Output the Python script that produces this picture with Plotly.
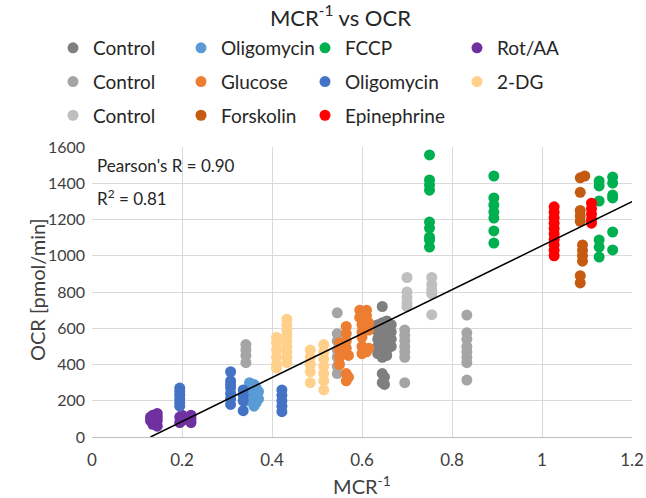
import plotly.graph_objects as go

# ---------------- data ----------------
ctrl1_x = [0.645, 0.635, 0.635, 0.635, 0.635, 0.635, 0.645, 0.645, 0.645, 0.645, 0.645, 0.645,
           0.655, 0.655, 0.655, 0.655, 0.655, 0.655, 0.665, 0.665, 0.665, 0.665, 0.645, 0.645, 0.65, 0.65]
ctrl1_y = [720, 620, 580, 540, 500, 460, 630, 590, 550, 510, 470, 440,
           640, 600, 560, 520, 480, 450, 620, 580, 540, 500, 350, 300, 330, 290]

oligo1_x = [0.35, 0.35, 0.35, 0.355, 0.355, 0.36, 0.36, 0.36, 0.365, 0.365, 0.365, 0.37, 0.37, 0.345, 0.345, 0.34, 0.36]
oligo1_y = [300, 260, 220, 280, 240, 290, 250, 210, 270, 230, 190, 250, 210, 240, 200, 260, 170]

fccp_x = [0.75, 0.75, 0.75, 0.75, 0.75, 0.75, 0.75, 0.75, 0.75,
          0.893, 0.893, 0.893, 0.893, 0.893, 0.893, 0.893,
          1.127, 1.127, 1.127, 1.127, 1.127, 1.127,
          1.157, 1.157, 1.157, 1.157, 1.157, 1.157]
fccp_y = [1556, 1418, 1390, 1362, 1186, 1153, 1103, 1087, 1048,
          1440, 1319, 1280, 1241, 1208, 1137, 1070,
          1412, 1385, 1302, 1087, 1048, 993,
          1434, 1401, 1335, 1319, 1131, 1032]

rotaa_x = [0.13, 0.13, 0.135, 0.135, 0.135, 0.145, 0.145, 0.145, 0.145,
           0.195, 0.195, 0.2, 0.2, 0.22, 0.22, 0.22]
rotaa_y = [90, 110, 70, 100, 120, 60, 90, 110, 130,
           80, 110, 90, 120, 80, 100, 120]

ctrl2_x = [0.342, 0.342, 0.342, 0.342,
           0.545, 0.545, 0.545, 0.545, 0.545, 0.545, 0.545,
           0.695, 0.695, 0.695, 0.695, 0.695, 0.695, 0.695,
           0.833, 0.833, 0.833, 0.833, 0.833, 0.833, 0.833, 0.833]
ctrl2_y = [510, 480, 450, 410,
           685, 570, 530, 480, 440, 390, 350,
           590, 560, 530, 500, 470, 440, 300,
           673, 575, 540, 500, 470, 440, 410, 314]

gluc_x = [0.55, 0.55, 0.55, 0.55, 0.555, 0.565, 0.565, 0.565, 0.565, 0.57, 0.565, 0.565, 0.57,
          0.595, 0.61, 0.595, 0.61, 0.6, 0.615, 0.6, 0.615, 0.6, 0.6, 0.615, 0.6, 0.61]
gluc_y = [520, 480, 440, 400, 500, 610, 570, 530, 490, 450, 350, 310, 330,
          700, 700, 660, 670, 620, 630, 580, 590, 550, 500, 490, 460, 470]

oligo2_x = [0.195, 0.195, 0.195, 0.195, 0.195, 0.195,
            0.308, 0.308, 0.308, 0.308, 0.308, 0.308, 0.308,
            0.336, 0.336, 0.336, 0.336,
            0.422, 0.422, 0.422, 0.422, 0.422]
oligo2_y = [270, 250, 230, 210, 190, 170,
            360, 310, 290, 270, 240, 210, 180,
            260, 230, 200, 145,
            260, 230, 200, 170, 140]

dg2_x = [0.41, 0.41, 0.41, 0.41, 0.41, 0.41,
         0.433, 0.433, 0.433, 0.433, 0.433, 0.433, 0.433, 0.433, 0.433,
         0.485, 0.485, 0.485, 0.485, 0.485,
         0.515, 0.515, 0.515, 0.515, 0.515, 0.515, 0.515]
dg2_y = [550, 520, 480, 440, 400, 380,
         650, 620, 590, 560, 530, 500, 470, 440, 410,
         480, 440, 400, 360, 300,
         510, 470, 430, 390, 350, 310, 260]

ctrl3_x = [0.70, 0.70, 0.70, 0.70, 0.70, 0.755, 0.755, 0.755, 0.755, 0.755]
ctrl3_y = [880, 800, 770, 740, 720, 880, 840, 810, 790, 675]

forsk_x = [1.085, 1.095, 1.085, 1.085, 1.085, 1.085, 1.09, 1.09, 1.09, 1.09, 1.085, 1.085]
forsk_y = [1430, 1440, 1350, 1250, 1220, 1190, 1060, 1030, 1000, 970, 890, 850]

epi_x = [1.027] * 10 + [1.11] * 5
epi_y = [1270, 1240, 1210, 1180, 1150, 1120, 1090, 1060, 1030, 1000,
         1290, 1260, 1230, 1200, 1180]

trend_x = [0.13, 1.2]
trend_y = [0, 1298]

x_ticks = [0, 0.2, 0.4, 0.6, 0.8, 1, 1.2]
x_tick_text = ["0", "0.2", "0.4", "0.6", "0.8", "1", "1.2"]
y_ticks = [0, 200, 400, 600, 800, 1000, 1200, 1400, 1600]

# ---------------- figure ----------------
FONT = "Lato"
TXT = "#262626"
series = [
    ("Control", ctrl1_x, ctrl1_y, "#7F7F7F", "legend"),
    ("Oligomycin", oligo1_x, oligo1_y, "#5B9BD5", "legend2"),
    ("FCCP", fccp_x, fccp_y, "#00B050", "legend3"),
    ("Rot/AA", rotaa_x, rotaa_y, "#7030A0", "legend4"),
    ("Control", ctrl2_x, ctrl2_y, "#A5A5A5", "legend"),
    ("Glucose", gluc_x, gluc_y, "#ED7D31", "legend2"),
    ("Oligomycin", oligo2_x, oligo2_y, "#4472C4", "legend3"),
    ("2-DG", dg2_x, dg2_y, "#FFD08A", "legend4"),
    ("Control", ctrl3_x, ctrl3_y, "#BFBFBF", "legend"),
    ("Forskolin", forsk_x, forsk_y, "#C55A11", "legend2"),
    ("Epinephrine", epi_x, epi_y, "#FF0000", "legend3"),
]

fig = go.Figure()
for i, (name, xs, ys, col, lg) in enumerate(series):
    fig.add_trace(go.Scatter(
        x=xs, y=ys, mode="markers", name=name, legend=lg, legendgroup=f"g{i}",
        marker=dict(color=col, size=11, line=dict(width=0)),
    ))

fig.add_trace(go.Scatter(x=trend_x, y=trend_y, mode="lines", showlegend=False,
                         line=dict(color="black", width=1.5), hoverinfo="skip"))

def px_x(p):
    return (p - 92) / 540.0

leg_common = dict(orientation="v", yanchor="top", xanchor="left", y=(437 - 29) / 290,
                  font=dict(family=FONT, size=19, color=TXT),
                  bgcolor="rgba(0,0,0,0)", tracegroupgap=6, itemwidth=30)

fig.update_layout(
    width=646, height=498,
    margin=dict(l=92, r=14, t=147, b=61, autoexpand=False),
    paper_bgcolor="white", plot_bgcolor="white",
    font=dict(family=FONT, color="#404040"),
    title=dict(text="MCR<sup>-1</sup> vs OCR", x=0.527, xanchor="center", y=1 - 18 / 498, yanchor="middle",
               font=dict(family=FONT, size=22, color=TXT)),
    legend=dict(leg_common, x=px_x(53)),
    legend2=dict(leg_common, x=px_x(181)),
    legend3=dict(leg_common, x=px_x(305)),
    legend4=dict(leg_common, x=px_x(457)),
    xaxis=dict(range=[0, 1.2], tickvals=x_ticks, ticktext=x_tick_text, automargin=False,
               showgrid=True, gridcolor="#D9D9D9", gridwidth=1,
               showline=True, linecolor="#BFBFBF", linewidth=1,
               zeroline=False, ticks="", ticklabelstandoff=8,
               tickfont=dict(family=FONT, size=17, color="#404040"),
               title=dict(text="MCR<sup>-1</sup>", font=dict(family=FONT, size=20, color="#404040"), standoff=12)),
    yaxis=dict(range=[0, 1600], tickvals=y_ticks, automargin=False,
               showgrid=True, gridcolor="#D9D9D9", gridwidth=1,
               showline=False, zeroline=False, ticks="", ticklabelstandoff=6,
               tickfont=dict(family=FONT, size=16, color="#404040")),
    showlegend=True,
    annotations=[
        dict(text="OCR [pmol/min]", xref="paper", yref="paper", x=px_x(37), y=(437 - 290) / 290,
             xanchor="center", yanchor="middle", textangle=-90, showarrow=False,
             font=dict(family=FONT, size=20, color="#404040")),
        dict(text="Pearson's R = 0.90", xref="paper", yref="paper", x=px_x(95), y=(437 - 165) / 290,
             xanchor="left", yanchor="middle", showarrow=False,
             font=dict(family=FONT, size=17, color=TXT)),
        dict(text="R<sup>2</sup> = 0.81", xref="paper", yref="paper", x=px_x(95), y=(437 - 197) / 290,
             xanchor="left", yanchor="middle", showarrow=False,
             font=dict(family=FONT, size=17, color=TXT)),
    ],
)

fig.write_html("out.html")
